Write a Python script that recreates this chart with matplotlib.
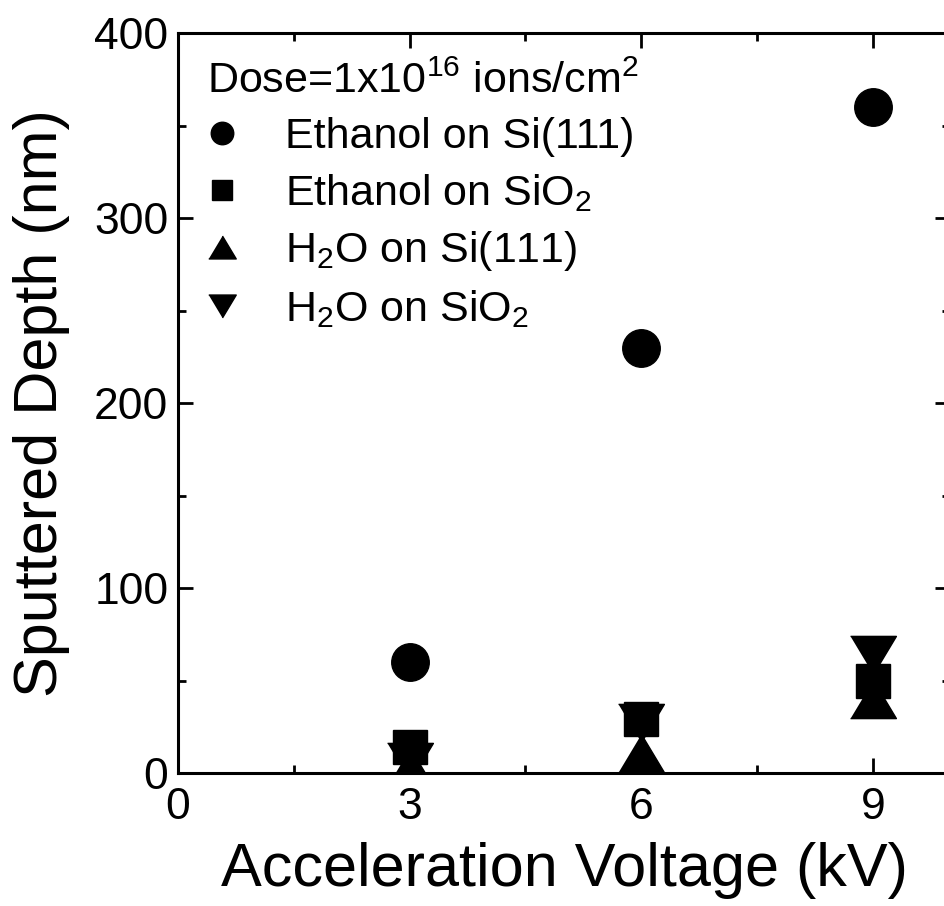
import matplotlib
matplotlib.use("Agg")
import matplotlib.pyplot as plt
from matplotlib.ticker import MultipleLocator

plt.rcParams['font.family'] = ['Liberation Sans', 'DejaVu Sans']
plt.rcParams['mathtext.fontset'] = 'custom'
plt.rcParams['mathtext.rm'] = 'Liberation Sans'
plt.rcParams['mathtext.it'] = 'Liberation Sans'
plt.rcParams['mathtext.bf'] = 'Liberation Sans'

# Data
voltage = [3, 6, 9]
ethanol_si111 = [60, 230, 360]
ethanol_sio2 = [14, 29, 50]
h2o_si111 = [3, 11, 40]
h2o_sio2 = [6, 27, 64]

labels = [
    'Ethanol on Si(111)',
    r'Ethanol on SiO$_\mathregular{2}$',
    r'H$_\mathregular{2}$O on Si(111)',
    r'H$_\mathregular{2}$O on SiO$_\mathregular{2}$',
]
legend_title = r'Dose=1x10$^\mathregular{16}$ ions/cm$^\mathregular{2}$'

up_tri = [(-1.2, -1), (1.2, -1), (0, 1)]
down_tri = [(-1.2, 1), (1.2, 1), (0, -1)]

fig = plt.figure(figsize=(9.44, 9.06), dpi=100)
ax = fig.add_axes([178/944, 1-773/906, 772/944, 740/906])

ax.plot(voltage, ethanol_si111, linestyle='none', marker='o', ms=27, color='black', label=labels[0])
ax.plot(voltage, ethanol_sio2, linestyle='none', marker='s', ms=24, color='black', label=labels[1])
ax.plot(voltage, h2o_si111, linestyle='none', marker=up_tri, ms=33, color='black', label=labels[2])
ax.plot(voltage, h2o_sio2, linestyle='none', marker=down_tri, ms=33, color='black', label=labels[3])

ax.set_xlim(0, 10)
ax.set_ylim(0, 400)
ax.xaxis.set_major_locator(MultipleLocator(3))
ax.xaxis.set_minor_locator(MultipleLocator(1.5))
ax.yaxis.set_major_locator(MultipleLocator(100))
ax.yaxis.set_minor_locator(MultipleLocator(50))
ax.tick_params(which='both', direction='in', top=True, right=True, width=2)
ax.tick_params(which='major', length=11, labelsize=32)
ax.tick_params(axis='x', which='major', pad=10)
ax.tick_params(axis='y', which='major', pad=7)
ax.tick_params(which='minor', length=6)
for s in ax.spines.values():
    s.set_linewidth(2.2)

ax.set_xlabel('Acceleration Voltage (kV)', fontsize=44, labelpad=10)
ax.set_ylabel('Sputtered Depth (nm)', fontsize=44, labelpad=17)

leg = ax.legend(loc='upper left', frameon=False, fontsize=31, title=legend_title,
                title_fontsize=31, alignment='left', markerscale=0.6,
                handlelength=0.7, handletextpad=1.12, labelspacing=0.35,
                borderaxespad=0.35, borderpad=0.32)

fig.savefig('out.png', dpi=100)
